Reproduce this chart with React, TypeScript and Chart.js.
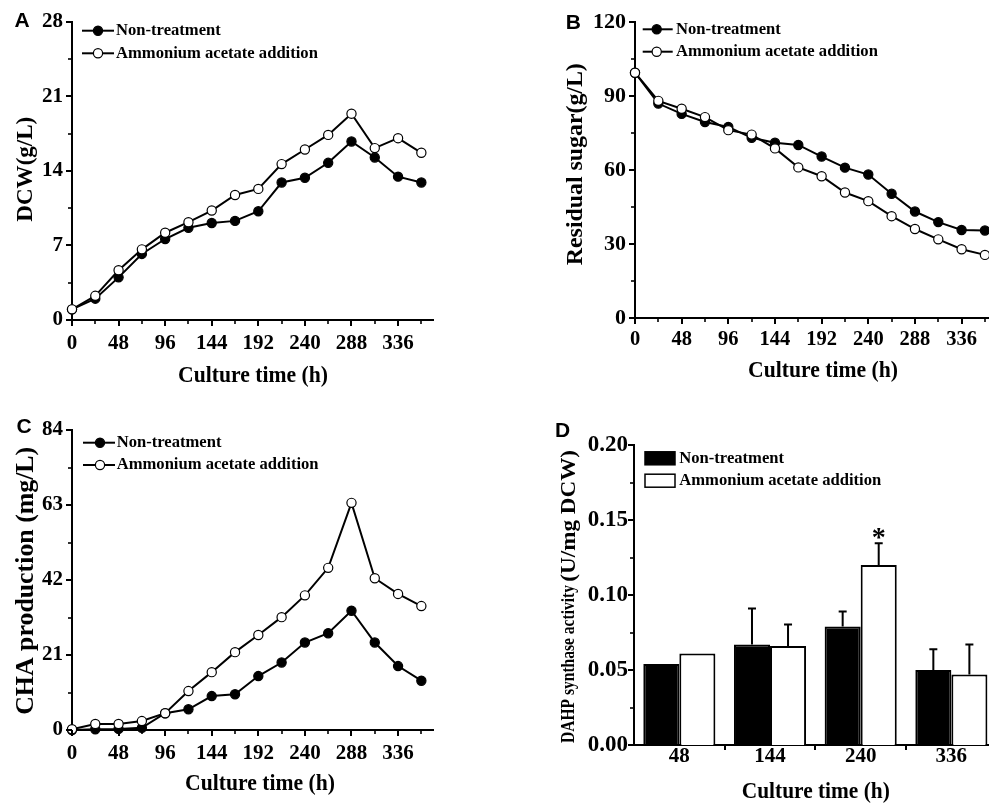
import { useEffect, useRef } from 'react';
import { Chart, registerables } from 'chart.js';

Chart.register(...registerables);

const SERIF = '"Liberation Serif", "Times New Roman", serif';
const SANS = '"Liberation Sans", Arial, sans-serif';

// ---------- data ----------
const hours = [0, 24, 48, 72, 96, 120, 144, 168, 192, 216, 240, 264, 288, 312, 336, 360];
const timeTicks = [0, 48, 96, 144, 192, 240, 288, 336];
const seriesNames = ['Non-treatment', 'Ammonium acetate addition'];

const dcwNon = [1.0, 2.0, 4.0, 6.2, 7.6, 8.65, 9.1, 9.3, 10.2, 12.9, 13.35, 14.75, 16.75, 15.25, 13.45, 12.9];
const dcwAmm = [1.0, 2.27, 4.67, 6.63, 8.19, 9.18, 10.27, 11.73, 12.3, 14.63, 16.0, 17.37, 19.36, 16.13, 17.06, 15.69];
const dcwTicks = [0, 7, 14, 21, 28];

const sugarNon = [99.5, 87.0, 82.8, 79.5, 77.5, 73.1, 71.1, 70.2, 65.5, 61.0, 58.2, 50.4, 43.2, 38.9, 35.7, 35.5];
const sugarAmm = [99.5, 88.1, 84.9, 81.5, 76.2, 74.4, 68.8, 61.1, 57.5, 50.9, 47.4, 41.3, 36.1, 31.9, 27.9, 25.6];
const sugarTicks = [0, 30, 60, 90, 120];

const chaNon = [0, 0.2, 0.3, 0.6, 4.7, 5.8, 9.5, 10.0, 15.1, 18.9, 24.5, 27.1, 33.4, 24.5, 17.9, 13.8];
const chaAmm = [0.2, 1.7, 1.7, 2.5, 4.7, 10.9, 16.2, 21.8, 26.6, 31.6, 37.7, 45.4, 63.6, 42.5, 38.1, 34.7];
const chaTicks = [0, 21, 42, 63, 84];

const dahpTimes = ['48', '144', '240', '336'];
const dahpNon = [0.054, 0.067, 0.079, 0.050];
const dahpNonErr = [0, 0.024, 0.010, 0.0138];
const dahpAmm = [0.061, 0.066, 0.120, 0.047];
const dahpAmmErr = [0, 0.0143, 0.0145, 0.020];
const dahpMarks = ['', '', '*', ''];
const dahpTicks = [0, 0.05, 0.1, 0.15, 0.2];

// ---------- helpers ----------
type TextSpec = {
  text: string; size: number; x: number; y: number;
  width?: number; rotate?: boolean; align?: CanvasTextAlign; family?: string;
};

function drawText(ctx: CanvasRenderingContext2D, t: TextSpec) {
  ctx.save();
  ctx.font = `bold ${t.size}px ${t.family || SERIF}`;
  ctx.fillStyle = '#000';
  ctx.textAlign = t.align || 'center';
  ctx.textBaseline = 'alphabetic';
  ctx.translate(t.x, t.y);
  if (t.rotate) ctx.rotate(-Math.PI / 2);
  if (t.width) {
    const w = ctx.measureText(t.text).width;
    if (w > 0) ctx.scale(t.width / w, 1);
  }
  ctx.fillText(t.text, 0, 0);
  ctx.restore();
}

type Decor = {
  yMajor: number; yMinor: number;
  xMajor?: number; xMinor?: number; xCategory?: boolean;
  legend: { kind: 'line' | 'box'; x1: number; x2: number; mx?: number; tx: number; rows: number[] };
  texts: TextSpec[];
};

function makeDecor(o: Decor) {
  return {
    id: 'decor',
    afterDraw(chart: any) {
      const ctx = chart.ctx as CanvasRenderingContext2D;
      const area = chart.chartArea;
      const xs = chart.scales.x;
      const ys = chart.scales.y;
      ctx.save();
      ctx.strokeStyle = '#000';
      ctx.lineCap = 'butt';
      // y tick marks (major + minor), outward
      const nY = Math.round((ys.max - ys.min) / o.yMinor);
      const yRatio = Math.round(o.yMajor / o.yMinor);
      for (let i = 0; i <= nY; i++) {
        const py = Math.round(ys.getPixelForValue(ys.min + i * o.yMinor));
        const major = i % yRatio === 0;
        ctx.lineWidth = major ? 2 : 1.6;
        ctx.beginPath();
        ctx.moveTo(area.left, py);
        ctx.lineTo(area.left - (major ? 6 : 4), py);
        ctx.stroke();
      }
      // x tick marks
      if (o.xCategory) {
        const n = chart.data.labels.length;
        const step = xs.getPixelForValue(1) - xs.getPixelForValue(0);
        for (let i = 0; i < n; i++) {
          const px = Math.round(xs.getPixelForValue(i) + step / 2);
          ctx.lineWidth = 2;
          ctx.beginPath();
          ctx.moveTo(px, area.bottom);
          ctx.lineTo(px, area.bottom + 5);
          ctx.stroke();
        }
      } else if (o.xMajor && o.xMinor) {
        const nX = Math.floor((xs.max - xs.min) / o.xMinor + 1e-6);
        const xRatio = Math.round(o.xMajor / o.xMinor);
        for (let i = 0; i <= nX; i++) {
          const px = Math.round(xs.getPixelForValue(xs.min + i * o.xMinor));
          const major = i % xRatio === 0;
          ctx.lineWidth = major ? 2 : 1.6;
          ctx.beginPath();
          ctx.moveTo(px, area.bottom);
          ctx.lineTo(px, area.bottom + (major ? 6 : 4));
          ctx.stroke();
        }
      }
      // legend
      const L = o.legend;
      chart.data.datasets.forEach((ds: any, i: number) => {
        const y = L.rows[i];
        ctx.strokeStyle = '#000';
        if (L.kind === 'line') {
          ctx.lineWidth = 2;
          ctx.beginPath();
          ctx.moveTo(L.x1, y);
          ctx.lineTo(L.x2, y);
          ctx.stroke();
          ctx.beginPath();
          ctx.arc(L.mx as number, y, 4.6, 0, Math.PI * 2);
          ctx.fillStyle = ds.pointBackgroundColor;
          ctx.fill();
          ctx.lineWidth = 1.2;
          ctx.stroke();
        } else {
          ctx.fillStyle = ds.backgroundColor;
          ctx.fillRect(L.x1, y - 6.5, L.x2 - L.x1, 13);
          ctx.lineWidth = 1.5;
          ctx.strokeRect(L.x1, y - 6.5, L.x2 - L.x1, 13);
        }
        ctx.fillStyle = '#000';
        ctx.font = `bold 16.6px ${SERIF}`;
        ctx.textAlign = 'left';
        ctx.textBaseline = 'middle';
        ctx.fillText(ds.label, L.tx, y);
      });
      o.texts.forEach((t) => drawText(ctx, t));
      ctx.restore();
    },
  };
}

function makeErrorBars(errors: number[][], marks: string[][]) {
  return {
    id: 'errorBars',
    afterDatasetsDraw(chart: any) {
      const ctx = chart.ctx as CanvasRenderingContext2D;
      const ys = chart.scales.y;
      ctx.save();
      ctx.strokeStyle = '#000';
      ctx.fillStyle = '#000';
      ctx.lineWidth = 2;
      errors.forEach((errs, di) => {
        const meta = chart.getDatasetMeta(di);
        const vals = chart.data.datasets[di].data as number[];
        meta.data.forEach((bar: any, j: number) => {
          const e = errs[j] || 0;
          const top = ys.getPixelForValue(vals[j] + e);
          if (e > 0) {
            ctx.beginPath();
            ctx.moveTo(bar.x, bar.y);
            ctx.lineTo(bar.x, top);
            ctx.moveTo(bar.x - 4, top);
            ctx.lineTo(bar.x + 4, top);
            ctx.stroke();
          }
          const m = marks[di] && marks[di][j];
          if (m) {
            ctx.font = `bold 28px ${SERIF}`;
            ctx.textAlign = 'center';
            ctx.textBaseline = 'alphabetic';
            ctx.fillText(m, bar.x, top + 3);
          }
        });
      });
      ctx.restore();
    },
  };
}

const tickFont = (size: number) => ({ family: SERIF, size, weight: 'bold' as const });

type LinePanel = {
  non: number[]; amm: number[]; yTicks: number[]; yMinor: number;
  padTop: number; padRight: number; xH: number; yW: number;
  yTickSize: number; xTickSize: number; yTickPad: number; xTickPad: number;
  legend: Decor['legend']; texts: TextSpec[];
};

function lineConfig(p: LinePanel): any {
  const yMax = p.yTicks[p.yTicks.length - 1];
  const mk = (arr: number[]) => hours.map((h, i) => ({ x: h, y: arr[i] }));
  return {
    type: 'line',
    data: {
      datasets: [
        {
          label: seriesNames[0], data: mk(p.non), borderColor: '#000', borderWidth: 2,
          pointRadius: 4.6, pointBorderWidth: 1.2, pointBackgroundColor: '#000', pointBorderColor: '#000',
          clip: false, order: 1, tension: 0, fill: false,
        },
        {
          label: seriesNames[1], data: mk(p.amm), borderColor: '#000', borderWidth: 2,
          pointRadius: 4.6, pointBorderWidth: 1.2, pointBackgroundColor: '#fff', pointBorderColor: '#000',
          clip: false, order: 0, tension: 0, fill: false,
        },
      ],
    },
    options: {
      responsive: false,
      animation: false,
      events: [],
      layout: { padding: { left: 0, top: p.padTop, right: p.padRight, bottom: 0 } },
      plugins: { legend: { display: false }, tooltip: { enabled: false } },
      scales: {
        x: {
          type: 'linear', min: 0, max: 372,
          afterFit: (s: any) => { s.height = p.xH; },
          afterBuildTicks: (s: any) => { s.ticks = timeTicks.map((v) => ({ value: v })); },
          grid: { display: false, drawTicks: false },
          border: { display: true, color: '#000', width: 2 },
          ticks: {
            autoSkip: false, maxRotation: 0, minRotation: 0, padding: p.xTickPad, color: '#000',
            font: tickFont(p.xTickSize),
          },
        },
        y: {
          type: 'linear', min: 0, max: yMax,
          afterFit: (s: any) => { s.width = p.yW; },
          afterBuildTicks: (s: any) => { s.ticks = p.yTicks.map((v) => ({ value: v })); },
          grid: { display: false, drawTicks: false },
          border: { display: true, color: '#000', width: 2 },
          ticks: { autoSkip: false, padding: p.yTickPad, color: '#000', font: tickFont(p.yTickSize) },
        },
      },
    },
    plugins: [
      makeDecor({
        yMajor: p.yTicks[1] - p.yTicks[0], yMinor: p.yMinor, xMajor: 48, xMinor: 24,
        legend: p.legend, texts: p.texts,
      }),
    ],
  };
}

function barConfig(): any {
  return {
    type: 'bar',
    data: {
      labels: dahpTimes,
      datasets: [
        {
          label: seriesNames[0], data: dahpNon, backgroundColor: '#000', borderColor: '#000',
          borderWidth: 2, categoryPercentage: 0.795, barPercentage: 1.0,
        },
        {
          label: seriesNames[1], data: dahpAmm, backgroundColor: '#fff', borderColor: '#000',
          borderWidth: 2, categoryPercentage: 0.795, barPercentage: 1.0,
        },
      ],
    },
    options: {
      responsive: false,
      animation: false,
      events: [],
      layout: { padding: { left: 0, top: 45, right: 8.3, bottom: 0 } },
      plugins: { legend: { display: false }, tooltip: { enabled: false } },
      scales: {
        x: {
          type: 'category',
          afterFit: (s: any) => { s.height = 60; },
          grid: { display: false, drawTicks: false },
          border: { display: true, color: '#000', width: 2 },
          ticks: { autoSkip: false, maxRotation: 0, padding: -1, color: '#000', font: tickFont(21) },
        },
        y: {
          type: 'linear', min: 0, max: dahpTicks[dahpTicks.length - 1],
          afterFit: (s: any) => { s.width = 139; },
          afterBuildTicks: (s: any) => { s.ticks = dahpTicks.map((v) => ({ value: v })); },
          grid: { display: false, drawTicks: false },
          border: { display: true, color: '#000', width: 2 },
          ticks: {
            autoSkip: false, padding: 6, color: '#000', font: tickFont(23),
            callback: (v: any) => Number(v).toFixed(2),
          },
        },
      },
    },
    plugins: [
      makeErrorBars([dahpNonErr, dahpAmmErr], [[], dahpMarks]),
      makeDecor({
        yMajor: 0.05, yMinor: 0.025, xCategory: true,
        legend: { kind: 'box', x1: 150, x2: 180, tx: 184.3, rows: [58.3, 80.7] },
        texts: [
          { text: 'D', size: 21, x: 67.5, y: 37.3, family: SANS },
          { text: 'Culture time (h)', size: 23, x: 320.8, y: 398.3, width: 148 },
          { text: 'DAHP synthase activity', size: 18, x: 79, y: 343, width: 158, rotate: true, align: 'left' },
          { text: '(U/mg DCW)', size: 22, x: 80, y: 181.7, width: 131.7, rotate: true, align: 'left' },
        ],
      }),
    ],
  };
}

const panelA: LinePanel = {
  non: dcwNon, amm: dcwAmm, yTicks: dcwTicks, yMinor: 3.5,
  padTop: 20, padRight: 57, xH: 80, yW: 72,
  yTickSize: 21, xTickSize: 21, yTickPad: 9, xTickPad: 11,
  legend: { kind: 'line', x1: 82, x2: 114, mx: 98, tx: 116, rows: [30.7, 53.3] },
  texts: [
    { text: 'A', size: 21, x: 22, y: 27.3, family: SANS },
    { text: 'Culture time (h)', size: 23, x: 253, y: 381.7, width: 150 },
    { text: 'DCW(g/L)', size: 24, x: 32.3, y: 169.2, width: 105, rotate: true },
  ],
};

const panelB: LinePanel = {
  non: sugarNon, amm: sugarAmm, yTicks: sugarTicks, yMinor: 15,
  padTop: 17, padRight: 8.4, xH: 82, yW: 140,
  yTickSize: 22, xTickSize: 20.5, yTickPad: 9, xTickPad: 9.4,
  legend: { kind: 'line', x1: 147.7, x2: 177.7, mx: 161.7, tx: 181, rows: [29.3, 51.7] },
  texts: [
    { text: 'B', size: 21, x: 78.3, y: 29.3, family: SANS },
    { text: 'Culture time (h)', size: 23, x: 328, y: 376.7, width: 150 },
    { text: 'Residual sugar(g/L)', size: 23.5, x: 86.7, y: 164.2, width: 202, rotate: true },
  ],
};

const panelC: LinePanel = {
  non: chaNon, amm: chaAmm, yTicks: chaTicks, yMinor: 10.5,
  padTop: 30, padRight: 57, xH: 75, yW: 72,
  yTickSize: 21, xTickSize: 21, yTickPad: 9, xTickPad: 10.7,
  legend: { kind: 'line', x1: 83, x2: 115, mx: 100, tx: 116.7, rows: [42.7, 65] },
  texts: [
    { text: 'C', size: 21, x: 24, y: 33.3, family: SANS },
    { text: 'Culture time (h)', size: 23, x: 260, y: 390, width: 150 },
    { text: 'CHA production (mg/L)', size: 25, x: 33.3, y: 180.8, width: 268, rotate: true },
  ],
};

export default function App() {
  const refA = useRef<HTMLCanvasElement>(null);
  const refB = useRef<HTMLCanvasElement>(null);
  const refC = useRef<HTMLCanvasElement>(null);
  const refD = useRef<HTMLCanvasElement>(null);

  useEffect(() => {
    const charts = [
      new Chart(refA.current as HTMLCanvasElement, lineConfig(panelA)),
      new Chart(refB.current as HTMLCanvasElement, lineConfig(panelB)),
      new Chart(refC.current as HTMLCanvasElement, lineConfig(panelC)),
      new Chart(refD.current as HTMLCanvasElement, barConfig()),
    ];
    return () => charts.forEach((c) => c.destroy());
  }, []);

  const cs = (left: number, top: number): React.CSSProperties => ({ position: 'absolute', left, top, display: 'block' });

  return (
    <div style={{ position: 'fixed', left: 0, top: 0, width: 989, height: 805, overflow: 'hidden', background: '#fff' }}>
      <canvas ref={refA} width={490} height={400} style={cs(0, 0)} />
      <canvas ref={refB} width={510} height={400} style={cs(495, 0)} />
      <canvas ref={refC} width={490} height={405} style={cs(0, 400)} />
      <canvas ref={refD} width={510} height={405} style={cs(495, 400)} />
    </div>
  );
}
